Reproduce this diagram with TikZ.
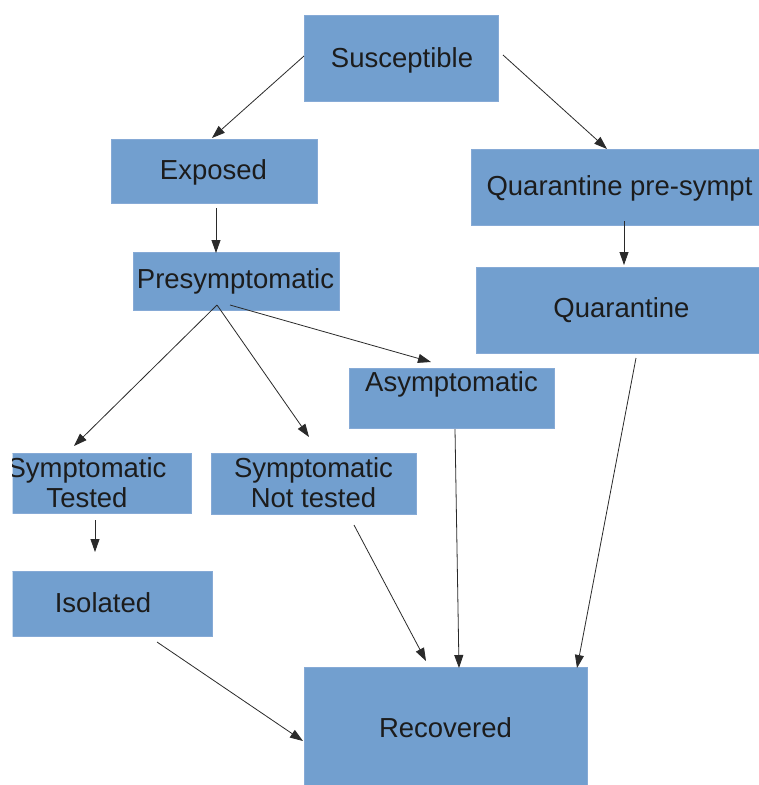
\documentclass[tikz,border=0pt]{standalone}
\usepackage{fontspec}
\setmainfont{Liberation Sans}
\usetikzlibrary{arrows.meta}
\definecolor{boxblue}{HTML}{729FCF}
\definecolor{boxedge}{HTML}{86AAD6}
\definecolor{txtc}{HTML}{1C1C1C}
\definecolor{arrc}{HTML}{2A2A2A}
\tikzset{
  box/.style={rectangle, fill=boxblue, draw=boxedge, line width=0.8pt, inner sep=0pt, outer sep=0pt},
  lbl/.style={anchor=base, inner sep=0pt, text=txtc, font=\fontsize{27.5}{30}\selectfont, align=center},
  arr/.style={draw=arrc, line width=0.8pt, -{Triangle[length=13pt,width=9pt]}}
}
\begin{document}
\begin{tikzpicture}[x=1pt,y=-1pt]
\useasboundingbox[fill=white] (0,0) rectangle (759,785);
\begin{scope}
\clip (12.5,0) rectangle (759,785);
% boxes
\node[box, minimum width=194pt, minimum height=86pt] (susc) at (401,58) {};
\node[box, minimum width=206pt, minimum height=64pt] (expo) at (214,171) {};
\node[box, minimum width=309pt, minimum height=76pt] (qps) at (625.5,187) {};
\node[box, minimum width=206pt, minimum height=58pt] (pres) at (236,281) {};
\node[box, minimum width=304pt, minimum height=86pt] (quar) at (628,310) {};
\node[box, minimum width=205pt, minimum height=60pt] (asym) at (451.5,398) {};
\node[box, minimum width=201pt, minimum height=60pt] (symt) at (90.5,483) {};
\node[box, minimum width=205pt, minimum height=61pt] (synt) at (313.5,483.5) {};
\node[box, minimum width=222pt, minimum height=65pt] (isol) at (101,603.5) {};
\node[box, minimum width=283pt, minimum height=133pt] (reco) at (445.5,733.5) {};
% labels
\node[lbl] (tsusc) at (402,67) {Susceptible};
\node[lbl] (texpo) at (213.5,179) {Exposed};
\node[lbl] (tqps) at (619.5,195) {Quarantine pre-sympt};
\node[lbl] (tpres) at (235.5,288) {Presymptomatic};
\node[lbl] (tquar) at (621.5,317) {Quarantine};
\node[lbl] (tasym) at (451.5,391) {Asymptomatic};
\node[lbl] (tsymt) at (87,507) {Symptomatic\\Tested};
\node[lbl] (tsynt) at (313.5,507) {Symptomatic\\Not tested};
\node[lbl] (tisol) at (103,612) {Isolated};
\node[lbl] (treco) at (445.5,737) {Recovered};
% connector end points
\coordinate (a1s) at (304,56);   \coordinate (a1e) at (212,138);
\coordinate (a2s) at (503,55);   \coordinate (a2e) at (607,149);
\coordinate (a3s) at (216,208);  \coordinate (a3e) at (216,253);
\coordinate (a4s) at (217,305);  \coordinate (a4e) at (74,446);
\coordinate (a5e) at (309,437);
\coordinate (a6s) at (230,305);  \coordinate (a6e) at (431,362);
\coordinate (a7s) at (624,221);  \coordinate (a7e) at (624,265);
\coordinate (a8s) at (95,520);   \coordinate (a8e) at (95,552);
\coordinate (a9s) at (157,642);  \coordinate (a9e) at (303,741);
\coordinate (a10s) at (354,525); \coordinate (a10e) at (426,661);
\coordinate (a11s) at (455,429); \coordinate (a11e) at (459,668);
\coordinate (a12s) at (636,358); \coordinate (a12e) at (577,668);
% connectors
\draw[arr] (a1s) -- (a1e);
\draw[arr] (a2s) -- (a2e);
\draw[arr] (a3s) -- (a3e);
\draw[arr] (a4s) -- (a4e);
\draw[arr] (a4s) -- (a5e);
\draw[arr] (a6s) -- (a6e);
\draw[arr] (a7s) -- (a7e);
\draw[arr] (a8s) -- (a8e);
\draw[arr] (a9s) -- (a9e);
\draw[arr] (a10s) -- (a10e);
\draw[arr] (a11s) -- (a11e);
\draw[arr] (a12s) -- (a12e);
\end{scope}
\end{tikzpicture}
\end{document}
